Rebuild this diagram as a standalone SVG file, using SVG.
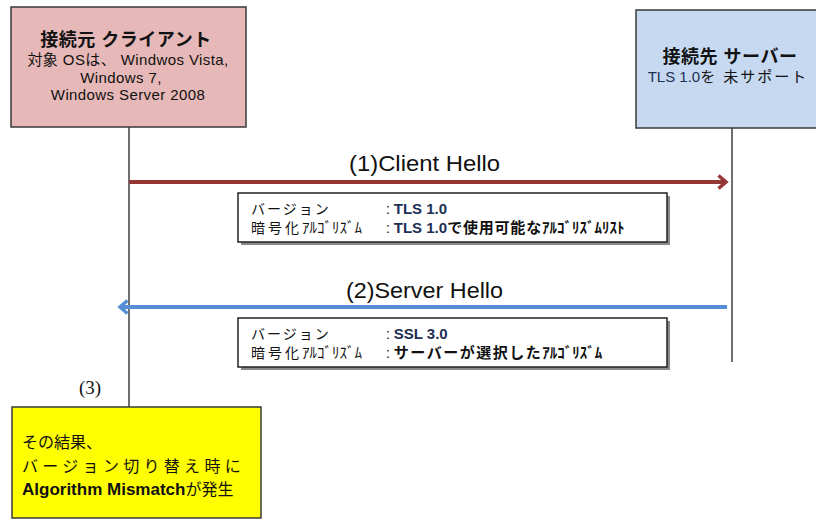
<svg xmlns="http://www.w3.org/2000/svg" width="816" height="521" viewBox="0 0 816 521">
<defs>
<style>
.box{stroke:#3a3a3a;stroke-width:1.5}
.t{font-family:"Liberation Sans","Noto Sans CJK JP",sans-serif;fill:#111}
.ttl{font-size:18px;font-weight:bold}
.sub{font-size:15px}
.lbl{font-family:"Liberation Sans","Noto Sans CJK JP",sans-serif;font-size:22px;fill:#111}
.note{fill:#fff;stroke:#222;stroke-width:1.5}
.shadow{fill:#8a8a8a}
.nt{font-family:"Liberation Sans","Noto Sans CJK JP",sans-serif;font-size:14px;fill:#111}
.b{font-weight:bold}
.navy{fill:#1c2f55}
.hw{letter-spacing:0}
.life{stroke:#222;stroke-width:1.3;fill:none}
</style>
<marker id="ahR" markerWidth="12" markerHeight="16" refX="9" refY="8" orient="auto" markerUnits="userSpaceOnUse">
<path d="M1.5,1.5 L9,8 L1.5,14.5" fill="none" stroke="#953735" stroke-width="3.5"/>
</marker>
<marker id="ahB" markerWidth="12" markerHeight="16" refX="9" refY="8" orient="auto" markerUnits="userSpaceOnUse">
<path d="M1.5,1.5 L9,8 L1.5,14.5" fill="none" stroke="#558ed5" stroke-width="3.5"/>
</marker>
</defs>
<rect width="816" height="521" fill="#fff"/>

<g id="connectors">
<line class="life" x1="129" y1="127" x2="129" y2="408"/>
<line class="life" x1="732" y1="128" x2="732" y2="362"/>
<line x1="129" y1="182" x2="726" y2="182" stroke="#953735" stroke-width="4" marker-end="url(#ahR)"/>
<text class="lbl" x="349" y="171" textLength="151" lengthAdjust="spacingAndGlyphs">(1)Client Hello</text>
<line x1="727" y1="307" x2="120" y2="307" stroke="#558ed5" stroke-width="4" marker-end="url(#ahB)"/>
<text class="lbl" x="346" y="298" textLength="157" lengthAdjust="spacingAndGlyphs">(2)Server Hello</text>
</g>

<g id="client">
<rect class="box" x="11" y="7" width="235" height="120" fill="#e6b8b7"/>
<text class="t ttl" x="126" y="46" text-anchor="middle" letter-spacing="0.5">接続元 クライアント</text>
<text class="t sub" x="128" y="65" text-anchor="middle" letter-spacing="0.4">対象 OSは、 Windwos  Vista,</text>
<text class="t sub" x="121" y="83" text-anchor="middle" letter-spacing="0.4">Windows 7,</text>
<text class="t sub" x="128" y="100" text-anchor="middle" letter-spacing="0.4">Windows Server 2008</text>
</g>

<g id="server">
<rect class="box" x="636" y="10" width="185" height="118" fill="#c6d9f1"/>
<text class="t ttl" x="730" y="63" text-anchor="middle" letter-spacing="0.5">接続先 サーバー</text>
<text class="t sub" x="728" y="82" text-anchor="middle"><tspan class="navy">TLS 1.0</tspan><tspan letter-spacing="2">を 未サポート</tspan></text>
</g>

<g id="note1">
<rect class="shadow" x="241" y="196" width="429" height="49"/>
<rect class="note" x="238" y="193" width="429" height="49"/>
<text class="nt" x="251" y="214" letter-spacing="2">バージョン</text>
<text class="nt" x="386" y="214">: <tspan class="b navy" font-size="15">TLS 1.0</tspan></text>
<text class="nt" x="251" y="233"><tspan letter-spacing="3">暗号化</tspan><tspan class="hw" font-size="15">ｱﾙｺﾞﾘｽﾞﾑ</tspan></text>
<text class="nt" x="386" y="233">: <tspan class="b navy" font-size="15">TLS 1.0</tspan><tspan class="b" font-size="15" letter-spacing="0.8">で使用可能な</tspan><tspan class="b hw" font-size="15">ｱﾙｺﾞﾘｽﾞﾑﾘｽﾄ</tspan></text>
</g>

<g id="note2">
<rect class="shadow" x="241" y="321" width="429" height="49"/>
<rect class="note" x="238" y="318" width="429" height="49"/>
<text class="nt" x="251" y="339" letter-spacing="2">バージョン</text>
<text class="nt" x="386" y="339">: <tspan class="b navy" font-size="15">SSL 3.0</tspan></text>
<text class="nt" x="251" y="358"><tspan letter-spacing="3">暗号化</tspan><tspan class="hw" font-size="15">ｱﾙｺﾞﾘｽﾞﾑ</tspan></text>
<text class="nt" x="386" y="358">: <tspan class="b" font-size="15" letter-spacing="1.5">サーバーが選択した</tspan><tspan class="b hw" font-size="15">ｱﾙｺﾞﾘｽﾞﾑ</tspan></text>
</g>

<g id="result">
<text x="90" y="394" text-anchor="middle" font-family="Liberation Serif,serif" font-size="19" fill="#111">(3)</text>
<rect class="box" x="12" y="407" width="249" height="111" fill="#ffff00"/>
<text class="t" x="22" y="448" font-size="16">その結果、</text>
<text class="t" x="22" y="472" font-size="16" letter-spacing="4.3">バージョン切り替え時に</text>
<text class="t" x="22" y="495" font-size="17"><tspan font-weight="bold">Algorithm Mismatch</tspan><tspan font-size="16">が発生</tspan></text>
</g>
</svg>
